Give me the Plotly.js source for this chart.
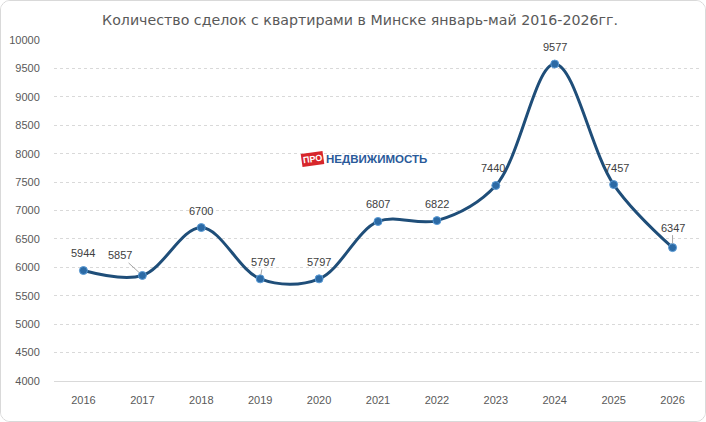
<!DOCTYPE html>
<html>
<head>
<meta charset="utf-8">
<script src="https://cdn.plot.ly/plotly-3.0.1.min.js"></script>
<style>
html,body{margin:0;padding:0;background:#fff;}
#chart{width:706px;height:422px;box-sizing:border-box;border:1px solid #d9d9d9;border-radius:10px;overflow:hidden;}
</style>
</head>
<body>
<div id="chart"></div>
<script>
const years = [2016, 2017, 2018, 2019, 2020, 2021, 2022, 2023, 2024, 2025, 2026];
const deals = [5944, 5857, 6700, 5797, 5797, 6807, 6822, 7440, 9577, 7457, 6347];
const yTicks = [4000,4500,5000,5500,6000,6500,7000,7500,8000,8500,9000,9500,10000];
const titleText = 'Количество сделок с квартирами в Минске январь-май 2016-2026гг.';

// label offsets (pixels) for data labels; leader = draw thin grey line
const labelOffsets = [[0,-18,false],[-22,-20,true],[0,-17,false],[3,-17,true],[0,-17,false],[0,-17,false],[0,-17,false],[-3,-17,false],[0,-17,false],[3,-17,false],[0,-20,true]];

const annotations = years.map((y,i)=>({
  x: y, y: deals[i], xref:'x', yref:'y',
  text: String(deals[i]),
  showarrow: true, arrowhead: 0, arrowwidth: 1,
  arrowcolor: labelOffsets[i][2] ? '#a6a6a6' : 'rgba(0,0,0,0)',
  standoff: 4,
  ax: labelOffsets[i][0], ay: labelOffsets[i][1],
  font: {family:'Liberation Sans, Arial, sans-serif', size:11, color:'#404040'}
}));

annotations.push({
  xref:'paper', yref:'paper', x:0.399, y:0.651, xanchor:'center', yanchor:'middle',
  text:'<b>ПРО</b>', showarrow:false, bgcolor:'#d7262b', borderpad:1,
  textangle:-8,
  font:{family:'Liberation Sans, Arial, sans-serif', size:9, color:'#ffffff'}
});
annotations.push({
  xref:'paper', yref:'paper', x:0.416, y:0.651, xanchor:'left', yanchor:'middle',
  text:'<b>НЕДВИЖИМОСТЬ</b>', showarrow:false,
  font:{family:'Liberation Sans, Arial, sans-serif', size:11.5, color:'#2a5a9a'}
});

const trace = {
  x: years, y: deals, type:'scatter', mode:'lines+markers',
  line:{color:'#1f4e79', width:3, shape:'spline', smoothing:1},
  marker:{size:8, color:'#2c6aa5', line:{color:'#5b9bd5', width:1}},
  hoverinfo:'x+y'
};

const layout = {
  width:704, height:420,
  margin:{l:53, r:3, t:39, b:40},
  paper_bgcolor:'#ffffff', plot_bgcolor:'#ffffff',
  showlegend:false,
  title:{text:titleText, x:0.51, xanchor:'center', y:0.955, yanchor:'middle',
    font:{family:'DejaVu Sans, Verdana, sans-serif', size:14.2, color:'#595959'}},
  xaxis:{type:'linear', range:[2015.5, 2026.5], tickvals:years, ticktext:years.map(String),
    showgrid:false, zeroline:false,
    showline:true, linecolor:'#d9d9d9', linewidth:1,
    ticks:'outside', ticklen:9, tickcolor:'rgba(0,0,0,0)',
    tickfont:{family:'Liberation Sans, Arial, sans-serif', size:11, color:'#595959'}},
  yaxis:{range:[4000,10000], tickvals:yTicks, ticktext:yTicks.map(String),
    showgrid:true, gridcolor:'#d9d9d9', griddash:'dot', gridwidth:1,
    zeroline:false, showline:false,
    ticks:'outside', ticklen:11, tickcolor:'rgba(0,0,0,0)',
    tickfont:{family:'Liberation Sans, Arial, sans-serif', size:11, color:'#595959'}},
  annotations: annotations
};

Plotly.newPlot('chart', [trace], layout, {displayModeBar:false, staticPlot:true});
</script>
</body>
</html>
